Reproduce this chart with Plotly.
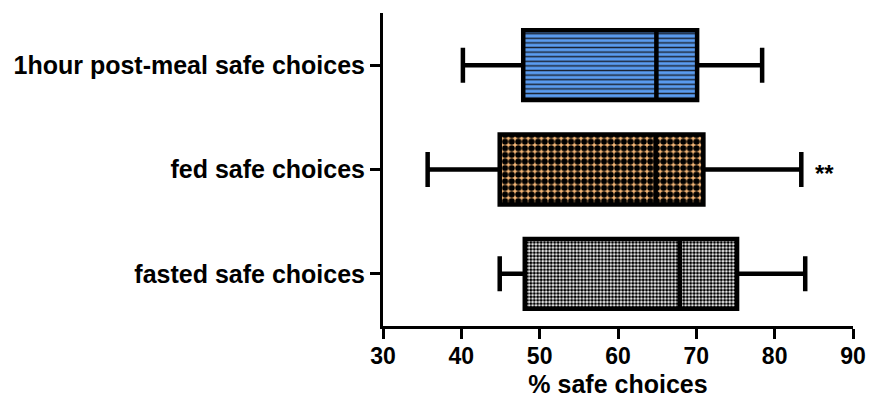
import plotly.graph_objects as go

# Summary statistics (% safe choices) for each condition, bottom to top
groups = ["fasted safe choices", "fed safe choices", "1hour post-meal safe choices"]
lower = [44.9, 35.7, 40.2]
q1 = [48.1, 44.9, 47.9]
median = [67.9, 64.8, 64.9]
q3 = [75.2, 70.9, 70.1]
upper = [83.9, 83.4, 78.4]
significance = ["", "**", ""]

positions = list(range(len(groups)))
BOX_W = 0.67
FONT = "Liberation Sans, Arial, sans-serif"

# fill style per condition: (shape, background, foreground, size, solidity)
fills = [
    (".", "#ffffff", "#000000", 3.4, 0.62),
    (".", "#f7b877", "#000000", 6.6, 0.68),
    ("-", "#5a9cf0", "#1b2433", 4.6, 0.32),
]

fig = go.Figure()

# patterned box bodies (q1 -> q3)
for pos, lo, hi, (shape, bg, fg, size, sol) in zip(positions, q1, q3, fills):
    fig.add_trace(go.Bar(
        y=[pos], x=[hi - lo], base=[lo], orientation="h", width=BOX_W,
        marker=dict(color=bg, line=dict(width=0),
                    pattern=dict(shape=shape, bgcolor=bg, fgcolor=fg,
                                 size=size, solidity=sol, fillmode="replace")),
        showlegend=False, hoverinfo="skip",
    ))

# outlines, medians and capped whiskers
fig.add_trace(go.Box(
    y=positions, q1=q1, median=median, q3=q3,
    lowerfence=lower, upperfence=upper,
    orientation="h", width=BOX_W, whiskerwidth=0.5,
    fillcolor="rgba(0,0,0,0)", line=dict(color="black", width=4.5),
    boxpoints=False, showlegend=False,
))

for pos, hi, mark in zip(positions, upper, significance):
    if mark:
        fig.add_annotation(x=hi + 1.5, y=pos, xref="x", yref="y", text=mark,
                           showarrow=False, xanchor="left", yanchor="middle",
                           yshift=-4,
                           font=dict(family=FONT, size=24, color="black", weight="bold"))

axis_common = dict(
    showline=True, linewidth=3, linecolor="black",
    ticks="outside", ticklen=10, tickwidth=3, tickcolor="black",
    showgrid=False, zeroline=False, automargin=False,
)

fig.update_layout(
    width=870, height=398,
    margin=dict(l=383, r=17, t=13, b=72),
    paper_bgcolor="white", plot_bgcolor="white",
    barmode="overlay", boxmode="overlay",
    xaxis=dict(range=[30, 90], tick0=30, dtick=10, **axis_common,
               ticklabelstandoff=-3,
               tickfont=dict(family=FONT, size=23, color="black", weight="bold"),
               title=dict(text="% safe choices", standoff=8,
                          font=dict(family=FONT, size=25, color="black", weight="bold"))),
    yaxis=dict(range=[-0.5, 2.5], tickvals=positions, ticktext=groups, **axis_common,
               tickfont=dict(family=FONT, size=25, color="black", weight="bold")),
)

fig.write_html("out.html")
